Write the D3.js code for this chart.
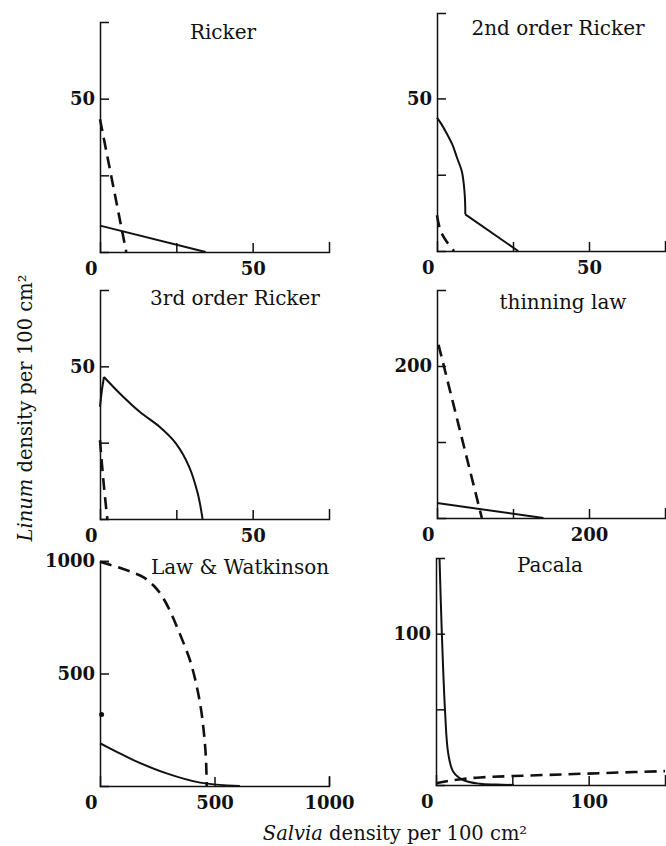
<!DOCTYPE html>
<html>
<head>
<meta charset="utf-8">
<script src="https://cdn.jsdelivr.net/npm/d3@7"></script>
<style>
  body { margin: 0; background: #fff; }
  svg { display: block; }
  .tick text { font-family: "DejaVu Serif", serif; font-weight: bold; font-size: 18px; fill: #111; }
  .title { font-family: "DejaVu Serif", serif; font-size: 20px; fill: #111; }
  .axlabel { font-family: "DejaVu Serif", serif; font-size: 19.5px; fill: #111; }
</style>
</head>
<body>
<div class="chart"></div>
<script>
// panel titles and axis extents
const titles = ["Ricker", "2nd order Ricker", "3rd order Ricker", "thinning law", "Law & Watkinson", "Pacala"];
const xMax = [75, 75, 75, 300, 1000, 150];
const yMax = [75, 78, 75, 300, 1000, 150];
const xTicks = [[25, 50], [25, 50], [25, 50], [100, 200], [500], [50, 100]];
const yTicks = [[25, 50], [25, 50], [25, 50], [100, 200], [500], [50, 100]];
const xTickLabels = [[0, 50], [0, 50], [0, 50], [0, 200], [0, 500, 1000], [0, 100]];
const yTickLabels = [[50], [50], [50], [200], [500, 1000], [100]];

// isoclines, [Salvia, Linum]
const rickerSolid = [[0, 8.6], [34.6, 0]];
const rickerDashed = [[0, 43.3], [8.6, 0]];
const ricker2SolidArc = [[0, 43.7], [1.5, 41.5], [3.2, 38.5], [5, 35], [6.5, 30.8], [8.2, 26], [8.8, 22], [9.15, 18], [9.3, 14], [9.3, 12]];
const ricker2SolidLine = [[9.3, 12], [26.7, 0]];
const ricker2Dashed = [[0, 11.7], [1.1, 6.8], [3.2, 3], [5.6, 0]];
const ricker3SolidUp = [[0, 36.7], [0.6, 42], [1.3, 46.5]];
const ricker3SolidDown = [[1.3, 46.5], [6.5, 41.1], [13, 35.1], [19.5, 30.2], [24.9, 24.7], [29.2, 17.1], [32, 8.4], [33.6, 0]];
const ricker3Dashed = [[0, 25.8], [1.1, 12.7], [2.4, 0]];
const thinSolid = [[0, 19.7], [140, 0]];
const thinDashed = [[2, 228], [59, 0]];
const lawSolid = [[0, 190], [73, 152], [146, 115], [291, 56], [437, 15], [611, 0]];
const lawDashed = [[0, 997], [73, 974], [140, 950], [189, 928], [235, 890], [270, 845], [305, 780], [335, 710], [365, 635], [393, 559], [413, 485], [429, 411], [442, 335], [451, 263], [458, 190], [463, 115], [466, 0]];
const lawPoint = [[7, 318]];
const pacalaSolid = [[2.3, 150], [3.7, 104], [5.9, 49.4], [8, 20.9], [11.3, 8.8], [17.8, 3.3], [28.7, 0.8], [39.6, 0.3], [51, 0]];
const pacalaDashed = [[0, 1.1], [9, 2.8], [17.8, 4], [28.7, 5], [50, 5.9], [83, 7], [115.7, 8.1], [150, 9.2]];

const series = [
  [{ d: rickerSolid }, { d: rickerDashed, dash: true }],
  [{ d: ricker2SolidArc }, { d: ricker2SolidLine }, { d: ricker2Dashed, dash: true }],
  [{ d: ricker3SolidUp }, { d: ricker3SolidDown }, { d: ricker3Dashed, dash: true }],
  [{ d: thinSolid }, { d: thinDashed, dash: true }],
  [{ d: lawSolid }, { d: lawDashed, dash: true }],
  [{ d: pacalaSolid }, { d: pacalaDashed, dash: true }]
];
const points = [[], [], [], [], lawPoint, []];

// where each panel sits on the page
const layout = [
  { x0: 100, x1: 329, yb: 252, yt: 22, tx: 223, ty: 32 },
  { x0: 437, x1: 665, yb: 251, yt: 13, tx: 558, ty: 28 },
  { x0: 100, x1: 329, yb: 519, yt: 290, tx: 235, ty: 298 },
  { x0: 437, x1: 665, yb: 518, yt: 290, tx: 563, ty: 302 },
  { x0: 100, x1: 329, yb: 786, yt: 561, tx: 240, ty: 567 },
  { x0: 436, x1: 665, yb: 785, yt: 558, tx: 550, ty: 565 }
];

const W = 666, H = 846;
const svg = d3.select(".chart").append("svg")
    .attr("width", W)
    .attr("height", H);

titles.forEach(function(title, i) {
    const L = layout[i];
    const x = d3.scaleLinear().domain([0, xMax[i]]).range([L.x0, L.x1]);
    const y = d3.scaleLinear().domain([0, yMax[i]]).range([L.yb, L.yt]);
    const g = svg.append("g");

    // ticks point inward, only some carry labels
    const xAxis = d3.axisBottom(x)
        .tickValues(d3.sort(d3.union(xTicks[i], xTickLabels[i])))
        .tickSizeInner(-9).tickSizeOuter(-10).tickPadding(10)
        .tickFormat(d => xTickLabels[i].includes(d) ? d : "");
    const yAxis = d3.axisLeft(y)
        .tickValues(d3.sort(d3.union(yTicks[i], yTickLabels[i])))
        .tickSizeInner(-9).tickSizeOuter(-9).tickPadding(5)
        .tickFormat(d => yTickLabels[i].includes(d) ? d : "");

    const gx = g.append("g")
        .attr("transform", "translate(0," + L.yb + ")")
        .call(xAxis);
    gx.selectAll(".tick").filter(d => d === 0).select("line").remove();
    gx.selectAll(".tick text").filter(d => d === 0)
        .attr("text-anchor", "end").attr("x", -3);

    g.append("g")
        .attr("transform", "translate(" + L.x0 + ",0)")
        .call(yAxis);

    g.selectAll(".domain, .tick line")
        .attr("stroke", "#111").attr("stroke-width", 1.5);

    g.append("text")
        .attr("class", "title")
        .attr("x", L.tx).attr("y", L.ty)
        .attr("text-anchor", "middle")
        .attr("dominant-baseline", "central")
        .text(title);

    const line = d3.line()
        .x(d => x(d[0]))
        .y(d => y(d[1]))
        .curve(d3.curveCatmullRom.alpha(0.5));

    g.selectAll("path.iso")
        .data(series[i])
        .enter().append("path")
        .attr("class", "iso")
        .attr("d", s => line(s.d))
        .attr("fill", "none")
        .attr("stroke", "#111")
        .attr("stroke-width", s => s.dash ? 2.6 : 2)
        .attr("stroke-dasharray", s => s.dash ? "12,7" : null);

    g.selectAll("circle")
        .data(points[i])
        .enter().append("circle")
        .attr("cx", d => x(d[0]))
        .attr("cy", d => y(d[1]))
        .attr("r", 2.5)
        .attr("fill", "#111");
});

// shared axis titles
const xl = svg.append("text")
    .attr("class", "axlabel")
    .attr("x", 395).attr("y", 840)
    .attr("text-anchor", "middle");
xl.append("tspan").attr("font-style", "italic").text("Salvia");
xl.append("tspan").text(" density per 100 cm²");

const yl = svg.append("text")
    .attr("class", "axlabel")
    .attr("transform", "translate(32,408) rotate(-90)")
    .attr("text-anchor", "middle");
yl.append("tspan").attr("font-style", "italic").text("Linum");
yl.append("tspan").text(" density per 100 cm²");
</script>
</body>
</html>
